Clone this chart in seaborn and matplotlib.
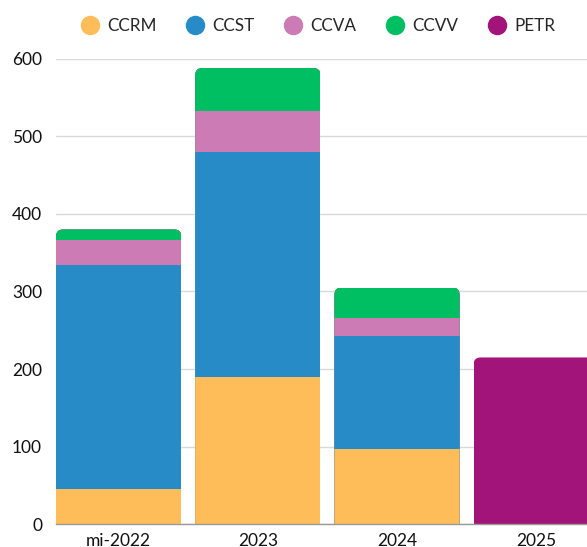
import numpy as np
import pandas as pd
import matplotlib
matplotlib.use("Agg")
import matplotlib.pyplot as plt
import seaborn as sns
from matplotlib.lines import Line2D
from matplotlib.patches import FancyBboxPatch
from matplotlib.transforms import IdentityTransform

# Données
categories = ["mi-2022", "2023", "2024", "2025"]
series = ["CCRM", "CCST", "CCVA", "CCVV", "PETR"]
ccrm = [45, 190, 97, 0]
ccst = [289, 290, 146, 0]
ccva = [33, 53, 23, 0]
ccvv = [13, 55, 39, 0]
petr = [0, 0, 0, 215]
colors = ["#FFBD5A", "#268BC7", "#CC7BB5", "#00BF63", "#A3147B"]
y_ticks = [0, 100, 200, 300, 400, 500, 600]

sns.set_theme(style="white")
plt.rcParams["font.family"] = ["Lato", "DejaVu Sans"]

df = pd.DataFrame({"CCRM": ccrm, "CCST": ccst, "CCVA": ccva, "CCVV": ccvv, "PETR": petr},
                  index=categories)
cum = df[series].cumsum(axis=1)
totals = cum["PETR"].values

fig = plt.figure(figsize=(5.87, 5.47), dpi=100)
ax = fig.add_axes([56 / 587, 22.7 / 547, 531 / 587, 465.6 / 547])

# barres empilées : on dessine du cumul le plus haut au plus bas
for name, color in reversed(list(zip(series, colors))):
    sns.barplot(x=categories, y=cum[name].values, color=color, width=0.9,
                errorbar=None, saturation=1, linewidth=0, edgecolor="none",
                ax=ax, zorder=3)

ax.set_xlim(-0.45, 3.365)
ax.set_ylim(0, 600)
ax.set_yticks(y_ticks)
ax.yaxis.grid(True, color="#d9d9d9", linewidth=1, zorder=0)
ax.set_axisbelow(True)
for side in ["top", "right", "left"]:
    ax.spines[side].set_visible(False)
ax.spines["bottom"].set_color("#999999")
ax.spines["bottom"].set_linewidth(1)
ax.spines["bottom"].set_zorder(4)
ax.tick_params(axis="both", length=0, labelsize=12.5, colors="#111111")
ax.tick_params(axis="y", pad=10)
ax.tick_params(axis="x", pad=6)
ax.set_xlabel("")
ax.set_ylabel("")

# coins arrondis en haut de chaque barre (en pixels)
for patch in ax.patches:
    i = int(round(patch.get_x() + patch.get_width() / 2))
    (x0, y0), (x1, y1) = ax.transData.transform(
        [(patch.get_x(), 0), (patch.get_x() + patch.get_width(), totals[i])])
    clip = FancyBboxPatch((x0, y0 - 40), x1 - x0, y1 - y0 + 40,
                          boxstyle="round,pad=0,rounding_size=7",
                          transform=IdentityTransform())
    patch.set_clip_path(clip)

handles = [Line2D([0], [0], marker="o", linestyle="", markersize=13,
                  markerfacecolor=c, markeredgecolor=c) for c in colors]
fig.legend(handles, series, loc="center left", bbox_to_anchor=(81 / 587, 1 - 25.8 / 547),
           ncol=5, frameon=False, fontsize=12.3, handlelength=1, handletextpad=0.52,
           columnspacing=1.75, borderpad=0, borderaxespad=0)

fig.savefig("out.png", dpi=100)
